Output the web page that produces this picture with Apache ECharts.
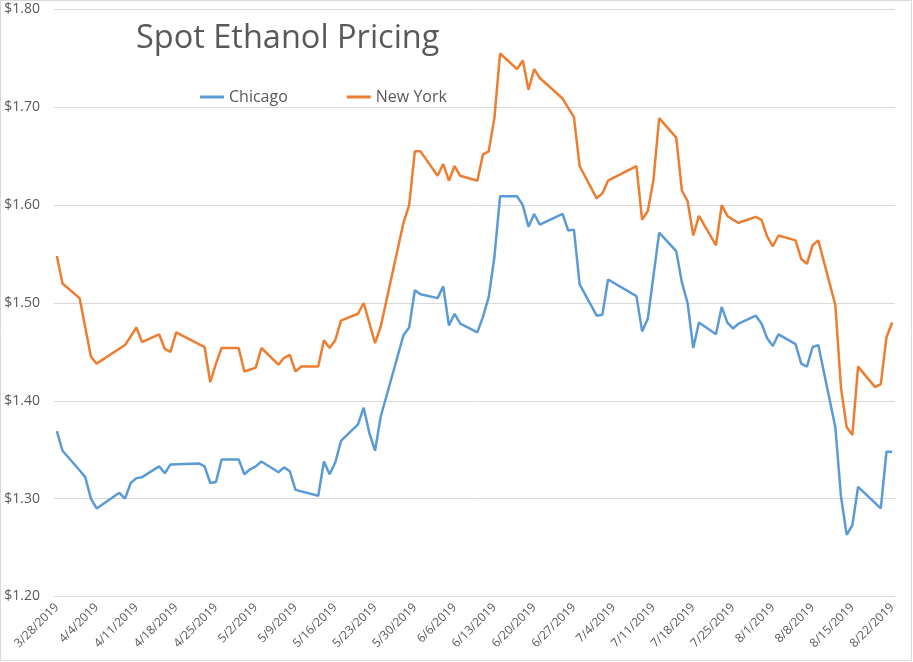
<!DOCTYPE html>
<html>
<head>
<meta charset="utf-8">
<script src="https://cdn.jsdelivr.net/npm/echarts@6/dist/echarts.min.js"></script>
<style>
  html, body { margin: 0; padding: 0; background: #fff; }
  #chart { width: 913px; height: 662px; }
</style>
</head>
<body>
<div id="chart"></div>
<script>
// trading days (only days where a vertex is visible in at least one line)
const dates = [
  '3/28/2019', '3/29/2019', '4/1/2019', '4/2/2019', '4/3/2019', '4/4/2019',
  '4/8/2019', '4/9/2019', '4/10/2019', '4/11/2019', '4/12/2019',
  '4/15/2019', '4/16/2019', '4/17/2019', '4/18/2019',
  '4/22/2019', '4/23/2019', '4/24/2019', '4/25/2019', '4/26/2019',
  '4/29/2019', '4/30/2019', '5/1/2019', '5/2/2019', '5/3/2019',
  '5/6/2019', '5/7/2019', '5/8/2019', '5/9/2019', '5/10/2019',
  '5/13/2019', '5/14/2019', '5/15/2019', '5/16/2019', '5/17/2019',
  '5/20/2019', '5/21/2019', '5/22/2019', '5/23/2019', '5/24/2019',
  '5/28/2019', '5/29/2019', '5/30/2019', '5/31/2019',
  '6/3/2019', '6/4/2019', '6/5/2019', '6/6/2019', '6/7/2019',
  '6/10/2019', '6/11/2019', '6/12/2019', '6/13/2019', '6/14/2019',
  '6/17/2019', '6/18/2019', '6/19/2019', '6/20/2019', '6/21/2019',
  '6/25/2019', '6/26/2019', '6/27/2019', '6/28/2019',
  '7/1/2019', '7/2/2019', '7/3/2019',
  '7/8/2019', '7/9/2019', '7/10/2019', '7/11/2019', '7/12/2019',
  '7/15/2019', '7/16/2019', '7/17/2019', '7/18/2019', '7/19/2019',
  '7/22/2019', '7/23/2019', '7/24/2019', '7/25/2019', '7/26/2019',
  '7/29/2019', '7/30/2019', '7/31/2019', '8/1/2019', '8/2/2019',
  '8/5/2019', '8/6/2019', '8/7/2019', '8/8/2019', '8/9/2019',
  '8/12/2019', '8/13/2019', '8/14/2019', '8/15/2019', '8/16/2019',
  '8/19/2019', '8/20/2019', '8/21/2019', '8/22/2019'
]

const chicago = [
  1.369, 1.349, 1.329, 1.322, 1.300, 1.290,
  1.306, 1.300, 1.316, 1.321, 1.322,
  1.333, 1.326, 1.335, null,
  1.336, 1.333, 1.316, 1.317, 1.340,
  1.340, 1.325, 1.330, 1.333, 1.338,
  1.327, 1.332, 1.328, 1.309, null,
  1.303, 1.338, 1.325, 1.337, 1.359,
  1.376, 1.393, 1.367, 1.349, 1.384,
  1.467, 1.475, 1.513, 1.509,
  1.505, 1.517, 1.477, 1.489, 1.479,
  1.470, 1.486, 1.506, 1.547, 1.609,
  1.609, 1.600, 1.578, 1.591, 1.580,
  1.591, 1.574, 1.575, 1.519,
  1.487, 1.488, 1.524,
  1.507, 1.471, 1.484, null, 1.572,
  1.553, 1.521, 1.500, 1.454, 1.480,
  1.468, 1.496, 1.480, 1.474, 1.479,
  1.487, 1.479, 1.464, 1.456, 1.468,
  1.458, 1.438, 1.435, 1.455, 1.457,
  1.373, 1.302, 1.263, 1.273, 1.312,
  null, 1.290, 1.348, 1.348
]

const newYork = [
  1.548, 1.520, 1.505, null, 1.445, 1.438,
  null, 1.457, null, 1.475, 1.460,
  1.468, 1.453, 1.450, 1.470,
  null, 1.455, 1.419, 1.438, 1.454,
  1.454, 1.430, null, 1.434, 1.454,
  1.437, 1.444, 1.447, 1.430, 1.435,
  1.435, 1.462, 1.454, 1.462, 1.482,
  1.489, 1.500, null, 1.459, 1.476,
  1.582, 1.600, 1.655, 1.655,
  1.630, 1.642, 1.625, 1.640, 1.630,
  1.625, 1.652, 1.655, 1.689, 1.755,
  1.739, 1.748, 1.718, 1.739, 1.730,
  1.709, null, 1.690, 1.640,
  1.607, 1.612, 1.625,
  1.640, 1.585, 1.594, 1.626, 1.689,
  1.669, 1.615, 1.604, 1.569, 1.589,
  1.559, 1.600, 1.589, 1.585, 1.582,
  1.588, 1.585, 1.568, 1.558, 1.569,
  1.564, 1.545, 1.540, 1.559, 1.564,
  1.498, 1.413, 1.373, 1.365, 1.435,
  1.414, 1.417, 1.465, 1.480
]

const tickLabels = [
  '3/28/2019', '4/4/2019', '4/11/2019', '4/18/2019', '4/25/2019', '5/2/2019',
  '5/9/2019', '5/16/2019', '5/23/2019', '5/30/2019', '6/6/2019', '6/13/2019',
  '6/20/2019', '6/27/2019', '7/4/2019', '7/11/2019', '7/18/2019', '7/25/2019',
  '8/1/2019', '8/8/2019', '8/15/2019', '8/22/2019'
]

// days since the first date
function dayNum(s) {
  const p = s.split('/').map(Number)
  return Date.UTC(p[2], p[0] - 1, p[1]) / 86400000
}
const day0 = dayNum(dates[0])
const toX = s => dayNum(s) - day0
const labelByX = {}
tickLabels.forEach(t => { labelByX[toX(t)] = t })
const tickX = tickLabels.map(toX)

const chart = echarts.init(document.getElementById('chart'))
const textColor = '#595959'
const font = "'Open Sans', sans-serif"

const option = {
  animation: false,
  backgroundColor: '#fff',
  color: ['#5B9BD5', '#ED7D31'],
  title: {
    text: 'Spot Ethanol Pricing',
    left: 131,
    top: 17,
    textStyle: {
      fontFamily: font,
      fontSize: 32.5,
      fontWeight: 'normal',
      color: textColor
    }
  },
  legend: {
    left: 195,
    top: 84,
    itemWidth: 24,
    itemHeight: 3,
    itemGap: 59,
    icon: 'rect',
    textStyle: { fontFamily: font, fontSize: 16, color: textColor },
    data: ['Chicago', 'New York']
  },
  grid: {
    left: 54,
    right: 18,
    top: 9.5,
    bottom: 65.5
  },
  xAxis: {
    type: 'value',
    min: -0.5,
    max: 147.5,
    axisLine: { show: false },
    axisTick: { show: false, customValues: tickX },
    splitLine: { show: false },
    axisLabel: {
      customValues: tickX,
      rotate: 45,
      margin: 9,
      fontFamily: font,
      fontSize: 12,
      color: textColor,
      formatter: v => labelByX[Math.round(v)] || ''
    }
  },
  yAxis: {
    type: 'value',
    min: 1.2,
    max: 1.8,
    interval: 0.1,
    axisLine: { show: false },
    axisTick: { show: false },
    splitLine: { lineStyle: { color: '#d9d9d9', width: 1 } },
    axisLabel: {
      margin: 14,
      fontFamily: font,
      fontSize: 14,
      color: textColor,
      formatter: v => '$' + v.toFixed(2)
    }
  },
  series: [
    {
      name: 'Chicago',
      type: 'line',
      showSymbol: false,
      connectNulls: true,
      lineStyle: { width: 2.5 },
      data: dates.map((d, i) => [toX(d), chicago[i]])
    },
    {
      name: 'New York',
      type: 'line',
      showSymbol: false,
      connectNulls: true,
      lineStyle: { width: 2.5 },
      data: dates.map((d, i) => [toX(d), newYork[i]])
    }
  ],
  graphic: [
    {
      type: 'rect',
      shape: { x: 0.5, y: 0.5, width: 911, height: 660 },
      style: { fill: null, stroke: '#d9d9d9', lineWidth: 1 },
      silent: true
    }
  ]
}

chart.setOption(option)
</script>
</body>
</html>
